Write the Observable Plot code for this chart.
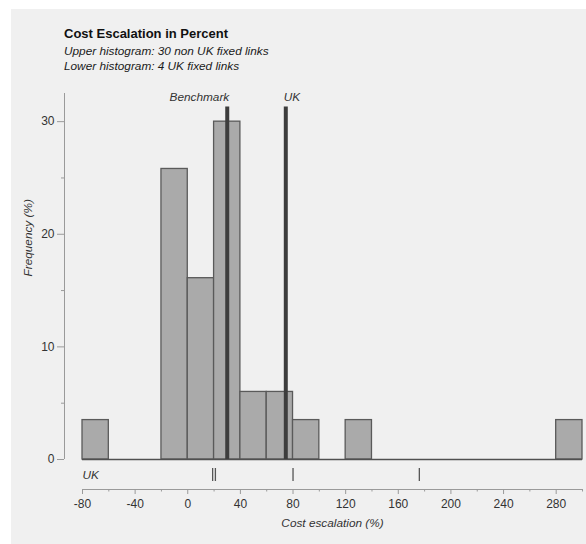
<!DOCTYPE html>
<html>
<head>
<meta charset="utf-8">
<script src="https://cdn.jsdelivr.net/npm/d3@7"></script>
<script src="https://cdn.jsdelivr.net/npm/@observablehq/plot@0.6"></script>
<style>
  html, body { margin: 0; padding: 0; background: #ffffff; }
  body { width: 586px; height: 544px; position: relative; overflow: hidden;
         font-family: "Liberation Sans", Arial, Helvetica, sans-serif; }
  #panel { position: absolute; left: 11px; top: 9px; width: 575px; height: 535px; background: #f0f0f0; }
  #title { position: absolute; left: 64px; top: 26px; font-size: 13px; font-weight: bold; color: #111; line-height: 15px; }
  #sub { position: absolute; left: 64px; top: 44px; font-size: 11.8px; font-style: italic; color: #1a1a1a; line-height: 14.5px; }
  #chart { position: absolute; left: 0; top: 80px; }
</style>
</head>
<body>
<div id="panel"></div>
<div id="title">Cost Escalation in Percent</div>
<div id="sub">Upper histogram: 30 non UK fixed links<br>Lower histogram: 4 UK fixed links</div>
<div id="chart"></div>
<script>
// ---- data ----
const binStarts = [-80, -20, 0, 20, 40, 60, 80, 120, 280];
const binWidth = 20;
const frequency = [3.5, 25.8, 16.1, 30.0, 6.0, 6.0, 3.5, 3.5, 3.5];
const ukLinks = [18.9, 21, 80, 176];
const refLabels = ["Benchmark", "UK"];
const refValues = [30, 74.5];
const refTop = 31.3;
const xDomain = [-80, 300];
const yDomain = [0, 32.5];
const xTicks = [-80, -40, 0, 40, 80, 120, 160, 200, 240, 280];
const xMinorTicks = [-60, -20, 20, 60, 100, 140, 180, 220, 260, 300];
const yTicks = [0, 10, 20, 30];
const yMinorTicks = [5, 15, 25];

const bins = binStarts.map((s, i) => ({x1: s, x2: s + binWidth, y: frequency[i]}));
const refs = refLabels.map((l, i) => ({label: l, x: refValues[i]}));

const font = "'Liberation Sans', Arial, Helvetica, sans-serif";

const chart = Plot.plot({
  width: 586,
  height: 464,
  marginTop: 13,
  marginLeft: 64,
  marginRight: 4,
  marginBottom: 55,
  style: {background: "transparent", fontFamily: font, color: "#333"},
  x: {domain: xDomain, insetLeft: 18, label: null},
  y: {domain: yDomain, insetBottom: 30, label: null},
  marks: [
    // bars
    Plot.rectY(bins, {x1: "x1", x2: "x2", y: "y", fill: "#aaaaaa", stroke: "#5a5a5a", strokeWidth: 1.3}),
    // baseline
    Plot.ruleY([0], {x1: xDomain[0], x2: xDomain[1], stroke: "#505050", strokeWidth: 1.6}),
    // reference lines
    Plot.ruleX(refs, {x: "x", y1: 0, y2: refTop, stroke: "#3d3d3d", strokeWidth: 4}),
    Plot.text(refs.slice(0, 1), {x: "x", text: "label", frameAnchor: "top", lineAnchor: "middle", dy: 4, dx: 2,
      textAnchor: "end", fontStyle: "italic", fontSize: 11.8, fill: "#333"}),
    Plot.text(refs.slice(1), {x: "x", text: "label", frameAnchor: "top", lineAnchor: "middle", dy: 4, dx: -2,
      textAnchor: "start", fontStyle: "italic", fontSize: 11.8, fill: "#333"}),
    // UK rug
    Plot.ruleX(ukLinks, {x: d => d, stroke: "#555", strokeWidth: 1.3, insetTop: 375, insetBottom: 8}),
    Plot.text(["UK"], {x: xDomain[0], frameAnchor: "bottom", lineAnchor: "middle", dy: -14, textAnchor: "start",
      fontStyle: "italic", fontSize: 11.8, fill: "#333"}),
    // x axis
    Plot.ruleY([0], {x1: xDomain[0], x2: xDomain[1], dy: 30, stroke: "#9a9a9a", strokeWidth: 1}),
    Plot.axisX({ticks: xTicks, tickSize: 5, tickPadding: 5, fontSize: 12, stroke: "#9a9a9a", fill: "#333",
      tickFormat: d => String(d), label: null}),
    Plot.axisX({ticks: xMinorTicks, tickSize: 2.5, tickFormat: () => "", stroke: "#9a9a9a", label: null}),
    Plot.text(["Cost escalation (%)"], {x: (xDomain[0] + xDomain[1]) / 2, frameAnchor: "bottom", lineAnchor: "middle",
      dy: 34, fontStyle: "italic", fontSize: 11.8, fill: "#333"}),
    // y axis
    Plot.ruleX([xDomain[0]], {y1: yDomain[0], y2: yDomain[1], dx: -18, stroke: "#9a9a9a", strokeWidth: 1}),
    Plot.axisY({ticks: yTicks, tickSize: 7, tickPadding: 3, fontSize: 12, stroke: "#9a9a9a", fill: "#333",
      tickFormat: d => String(d), label: null}),
    Plot.axisY({ticks: yMinorTicks, tickSize: 3, tickFormat: () => "", stroke: "#9a9a9a", label: null}),
    Plot.text(["Frequency (%)"], {y: (yDomain[0] + yDomain[1]) / 2, frameAnchor: "left", dx: -36, rotate: -90,
      fontStyle: "italic", fontSize: 11.8, fill: "#333"})
  ]
});
document.getElementById("chart").appendChild(chart);
</script>
</body>
</html>
